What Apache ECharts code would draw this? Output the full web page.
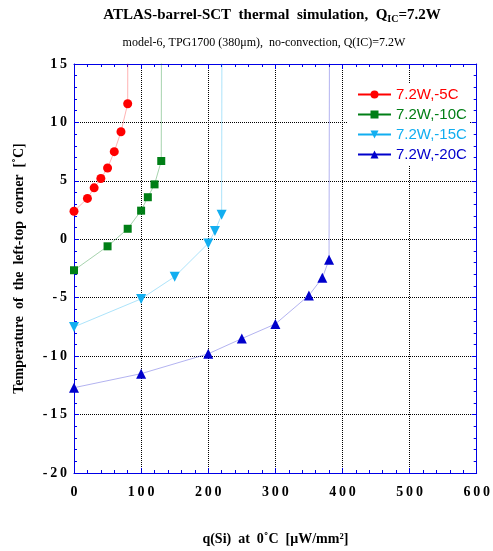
<!DOCTYPE html>
<html><head><meta charset="utf-8">
<script src="https://cdn.jsdelivr.net/npm/echarts@6/dist/echarts.min.js"></script>
<style>html,body{margin:0;padding:0;background:#fff}#c{width:493px;height:551px}</style>
</head><body><div id="c"></div>
<script>
// data (last point of each series: curve leaves the plot upward)
const seriesNames = ['7.2W,-5C', '7.2W,-10C', '7.2W,-15C', '7.2W,-20C'];
const redX   = [0, 20, 30, 40, 50, 60, 70, 80, 81.5];
const redY   = [2.4, 3.5, 4.4, 5.2, 6.1, 7.5, 9.2, 11.6, 60];
const greenX = [0, 50, 80, 100, 110, 120, 130, 131.5];
const greenY = [-2.65, -0.6, 0.9, 2.45, 3.6, 4.7, 6.7, 60];
const cyanX  = [0, 100, 150, 200, 210, 220, 221.5];
const cyanY  = [-7.5, -5.1, -3.2, -0.35, 0.7, 2.1, 60];
const blueX  = [0, 100, 200, 250, 300, 350, 370, 380, 382];
const blueY  = [-12.7, -11.5, -9.8, -8.5, -7.25, -4.8, -3.3, -1.75, 60];

const serif = 'Liberation Serif';
const axisBlue = '#0000e6';
function spaced(v){ return String(v).split('').join('\u2009'); }
function pts(xs, ys){
  return xs.map((x,i)=> i === xs.length-1 ? {value:[x, ys[i]], symbol:'none'} : [x, ys[i]]);
}
const defs = [
  {name: seriesNames[0], x: redX, y: redY, color:'#ff0000', line:'rgba(255,0,0,0.3)', symbol:'circle', size:9, rot:0},
  {name: seriesNames[1], x: greenX, y: greenY, color:'#007f16', line:'rgba(0,128,22,0.35)', symbol:'rect', size:8, rot:0},
  {name: seriesNames[2], x: cyanX, y: cyanY, color:'#12aef0', line:'rgba(18,174,240,0.35)', symbol:'triangle', size:10, rot:180},
  {name: seriesNames[3], x: blueX, y: blueY, color:'#0000cc', line:'rgba(0,0,204,0.3)', symbol:'triangle', size:10, rot:0}
];

function axisCommon(extra){
  return Object.assign({
    axisLine: {show: true, onZero: false, lineStyle: {color: axisBlue, width: 1}},
    axisTick: {show: true, inside: true, length: 5, lineStyle: {color: axisBlue}},
    minorTick: {show: true, splitNumber: 5, length: 3, lineStyle: {color: axisBlue}}
  }, extra);
}

const chart = echarts.init(document.getElementById('c'), null, {renderer:'canvas'});
chart.setOption({
  animation: false,
  backgroundColor: '#fff',
  title: [
    {text: 'ATLAS-barrel-SCT  thermal  simulation,  Q{sub|IC}=7.2W', left: 267, top: 1, textAlign: 'center',
     textStyle: {fontFamily: serif, fontWeight: 'bold', fontSize: 15, color: '#000',
       rich: {sub: {fontFamily: serif, fontWeight: 'bold', fontSize: 10, color:'#000', verticalAlign:'bottom', padding:[8,0,0,0]}}}},
    {text: 'model-6, TPG1700 (380\u03bcm),  no-convection, Q(IC)=7.2W', left: 259, top: 32, textAlign: 'center',
     textStyle: {fontFamily: serif, fontWeight: 'normal', fontSize: 12, color: '#000'}}
  ],
  grid: {left: 74, right: 14, top: 64, bottom: 78, containLabel: false},
  legend: {
    orient: 'vertical', left: 348, top: 83, itemWidth: 33, itemHeight: 10, itemGap: 5,
    backgroundColor: '#fff', padding: [4, 3, 4, 9],
    textStyle: {fontFamily: 'Liberation Sans', fontSize: 15},
    data: defs.map(d => ({name: d.name, textStyle: {color: d.color},
      lineStyle: {color: d.color, opacity: 1, width: 2}, itemStyle: {color: d.color}}))
  },
  xAxis: [
    axisCommon({type: 'value', min: 0, max: 600, interval: 100, position: 'bottom',
     name: 'q(Si)  at  0\u02daC  [\u03bcW/mm\u00b2]', nameLocation: 'middle', nameGap: 59,
     nameTextStyle: {fontFamily: serif, fontWeight: 'bold', fontSize: 14, color: '#000'},
     axisLabel: {margin: 12, fontFamily: serif, fontWeight: 'bold', fontSize: 14, color: '#000', formatter: spaced},
     splitLine: {show: true, lineStyle: {color: '#000', type: 'dotted', width: 1}}}),
    axisCommon({type: 'value', min: 0, max: 600, interval: 100, position: 'top',
     axisLabel: {show: false}, splitLine: {show: false}})
  ],
  yAxis: [
    axisCommon({type: 'value', min: -20, max: 15, interval: 5, position: 'left',
     name: 'Temperature  of  the  left-top  corner  [\u02daC]', nameLocation: 'middle', nameGap: 48,
     nameTextStyle: {fontFamily: serif, fontWeight: 'bold', fontSize: 14, color: '#000'},
     axisLabel: {margin: 7, fontFamily: serif, fontWeight: 'bold', fontSize: 14, color: '#000', formatter: spaced},
     splitLine: {show: true, lineStyle: {color: '#000', type: 'dotted', width: 1}}}),
    axisCommon({type: 'value', min: -20, max: 15, interval: 5, position: 'right',
     axisLabel: {show: false}, splitLine: {show: false}})
  ],
  series: defs.map(d => ({
    name: d.name, type: 'line', xAxisIndex: 0, yAxisIndex: 0,
    data: pts(d.x, d.y), clip: true,
    symbol: d.symbol, symbolSize: d.size, symbolRotate: d.rot, showAllSymbol: true,
    itemStyle: {color: d.color},
    lineStyle: {color: d.line, width: 1}
  }))
});
</script>
</body></html>
